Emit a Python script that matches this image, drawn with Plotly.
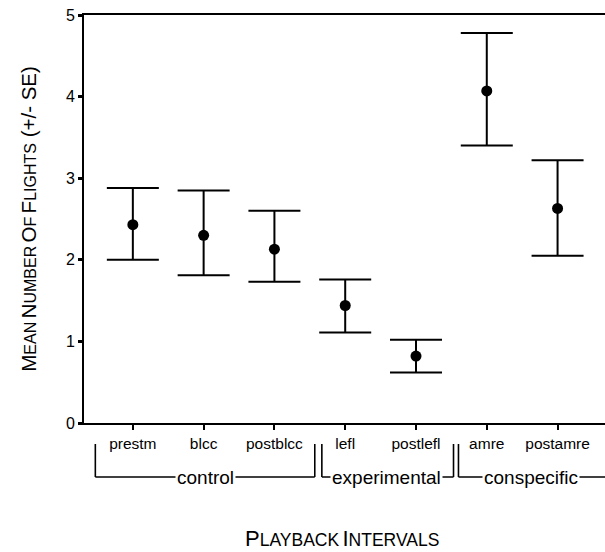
import plotly.graph_objects as go

# ---- data ----
categories = ["prestm", "blcc", "postblcc", "lefl", "postlefl", "amre", "postamre"]
means = [2.43, 2.30, 2.13, 1.44, 0.82, 4.07, 2.63]
upper = [2.88, 2.85, 2.60, 1.76, 1.02, 4.78, 3.22]
lower = [2.00, 1.81, 1.73, 1.11, 0.62, 3.40, 2.05]
y_ticks = [0, 1, 2, 3, 4, 5]
groups = ["control", "experimental", "conspecific"]
group_start = [0, 3, 5]
group_end = [2, 4, 6]

FONT = "Liberation Sans, Arial, sans-serif"
x_idx = list(range(len(categories)))
err_plus = [u - m for u, m in zip(upper, means)]
err_minus = [m - l for m, l in zip(means, lower)]

fig = go.Figure()
fig.add_trace(go.Scatter(
    x=x_idx, y=means, mode="markers",
    marker=dict(color="black", size=11),
    error_y=dict(type="data", symmetric=False, array=err_plus, arrayminus=err_minus,
                 color="black", thickness=2, width=26),
    showlegend=False, cliponaxis=False,
))

XMIN, XMAX = -0.69, 6.67

def sc(big, small, bs, ss):
    return f"<span style='font-size:{bs}px'>{big}</span><span style='font-size:{ss}px'>{small}</span>"

YB, YS = 20.5, 16
ytitle = (sc("M", "EAN", YB, YS) + " " + sc("N", "UMBER", YB, YS) + " " + sc("O", "F", YB, YS)
          + " " + sc("F", "LIGHTS", YB, YS) + f"<span style='font-size:{YB}px'> (+/- SE)</span>")
XB, XS = 22, 17.5
xtitle = sc("P", "LAYBACK", XB, XS) + " " + sc("I", "NTERVALS", XB, XS)

fig.update_layout(
    width=605, height=552,
    margin=dict(l=84, r=0, t=15, b=129),
    paper_bgcolor="white", plot_bgcolor="white",
    font=dict(family=FONT, color="black"),
    xaxis=dict(range=[XMIN, XMAX], showgrid=False, zeroline=False,
               showline=True, linecolor="black", linewidth=2, mirror=True,
               tickvals=x_idx, ticktext=categories, ticks="outside",
               ticklen=5, tickwidth=2, tickcolor="black",
               tickfont=dict(size=15.5, family=FONT)),
    yaxis=dict(range=[0, 5], showgrid=False, zeroline=False,
               showline=True, linecolor="black", linewidth=2,
               tickvals=y_ticks, ticks="outside", ticklen=4, tickwidth=3,
               tickcolor="black", tickfont=dict(size=16, family=FONT)),
)

# y axis title
fig.add_annotation(text=ytitle, xref="paper", yref="paper", x=-0.108, y=0.5,
                   xanchor="center", yanchor="middle", textangle=-90, showarrow=False,
                   font=dict(family=FONT, color="black"))
# x axis title
fig.add_annotation(text=xtitle, xref="paper", yref="paper", x=0.495, y=-0.284,
                   xanchor="center", yanchor="middle", showarrow=False,
                   font=dict(family=FONT, color="black"))

# group brackets
LINE_Y = -0.1324
TOP_Y = -0.0515
left_off = [0.53, 0.33, 0.40]
right_off = [0.57, 0.53, None]
text_x = [1.02, 3.59, 5.63]
line_style = dict(color="black", width=1.6)
for g, name in enumerate(groups):
    x0 = group_start[g] - left_off[g]
    x1 = group_end[g] + right_off[g] if right_off[g] is not None else XMAX
    fig.add_shape(type="line", xref="x", yref="paper", x0=x0, x1=x0, y0=TOP_Y, y1=LINE_Y, line=line_style)
    fig.add_shape(type="line", xref="x", yref="paper", x0=x0, x1=x1, y0=LINE_Y, y1=LINE_Y, line=line_style)
    if right_off[g] is not None:
        fig.add_shape(type="line", xref="x", yref="paper", x0=x1, x1=x1, y0=TOP_Y, y1=LINE_Y, line=line_style)
    fig.add_annotation(text=name, xref="x", yref="paper", x=text_x[g], y=LINE_Y,
                       xanchor="center", yanchor="middle", showarrow=False,
                       bgcolor="white", borderpad=1,
                       font=dict(family=FONT, size=19, color="black"))

fig.write_html("out.html")
